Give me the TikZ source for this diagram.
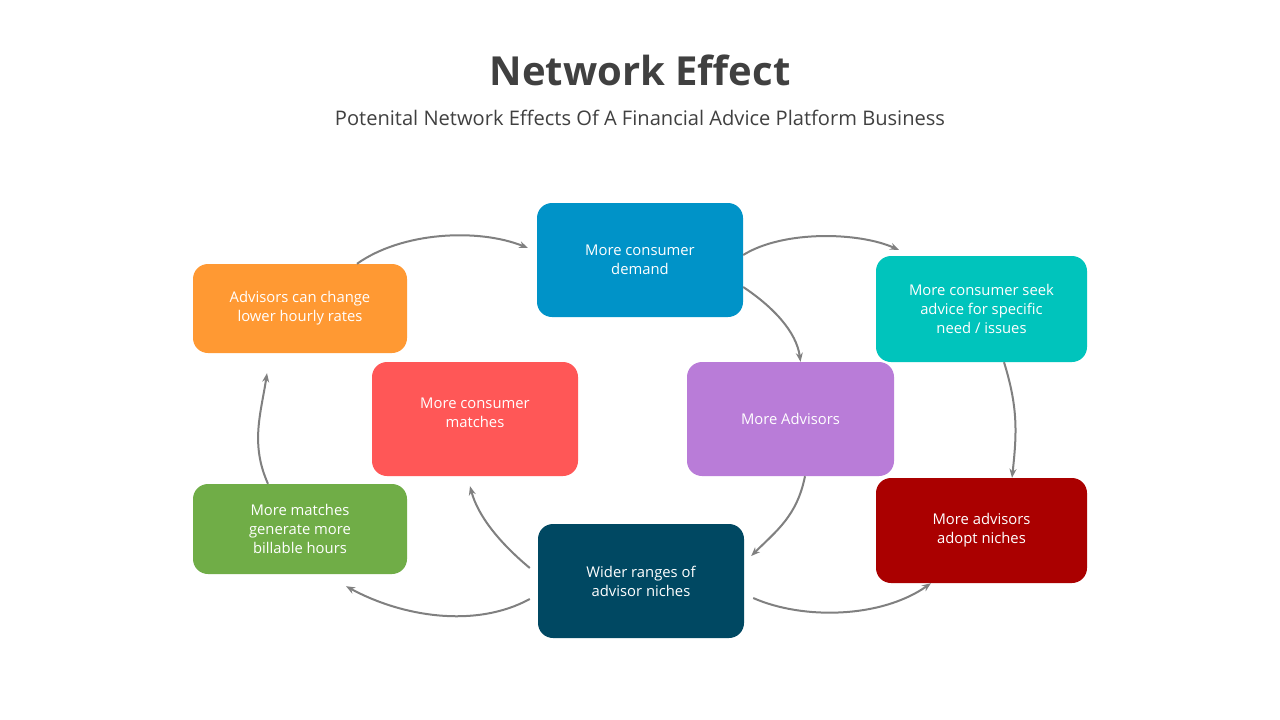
\documentclass[tikz,border=0pt]{standalone}
\usepackage{fontspec}
\setmainfont{Open Sans}
\usetikzlibrary{arrows.meta}
\definecolor{cOrange}{RGB}{255,153,51}
\definecolor{cBlue}{RGB}{0,147,200}
\definecolor{cTeal}{RGB}{0,196,188}
\definecolor{cCoral}{RGB}{255,87,87}
\definecolor{cPurple}{RGB}{185,124,216}
\definecolor{cGreen}{RGB}{112,173,71}
\definecolor{cNavy}{RGB}{0,72,98}
\definecolor{cDark}{RGB}{170,0,0}
\definecolor{cTitle}{RGB}{64,64,64}
\definecolor{cArrow}{RGB}{128,128,128}
\tikzset{
  box/.style={rounded corners=15pt, text=white, align=center, inner sep=0pt,
    font=\fontsize{14.8}{19}\selectfont},
  flow/.style={draw=cArrow, line width=2pt, -{Stealth[length=9pt,width=7pt]}},
}
\begin{document}
\begin{tikzpicture}[x=1pt,y=-1pt]
\useasboundingbox (0,0) rectangle (1280,720);
\fill[white] (0,0) rectangle (1280,720);
\node[font=\fontsize{40}{46}\selectfont\bfseries, text=cTitle] (title) at (640,70) {Network Effect};
\node[font=\fontsize{20.1}{24}\selectfont, text=cTitle] (sub) at (640,118) {Potenital Network Effects Of A Financial Advice Platform Business};

\node[box, fill=cOrange, minimum width=214pt, minimum height=89pt] (orange) at (300,308.5) {Advisors can change\\lower hourly rates};
\node[box, fill=cBlue, minimum width=206pt, minimum height=114pt] (blue) at (640,260) {More consumer\\demand};
\node[box, fill=cTeal, minimum width=211pt, minimum height=106pt] (teal) at (981.5,309) {More consumer seek\\advice for specific\\need / issues};
\node[box, fill=cCoral, minimum width=206pt, minimum height=114pt] (coral) at (475,419) {More consumer\\matches\\[-6pt]};
\node[box, fill=cPurple, minimum width=207pt, minimum height=114pt] (purple) at (790.5,419) {More Advisors};
\node[box, fill=cGreen, minimum width=214pt, minimum height=90pt] (green) at (300,529) {More matches\\generate more\\billable hours};
\node[box, fill=cNavy, minimum width=206pt, minimum height=114pt] (navy) at (641,581) {Wider ranges of\\advisor niches};
\node[box, fill=cDark, minimum width=211pt, minimum height=105pt] (dark) at (981.5,530.5) {More advisors\\adopt niches};

\coordinate (e1) at (528,248);
\coordinate (e2) at (899,250);
\draw[flow] ([xshift=57pt]orange.north) .. controls +(45,-32) and +(-50,-20) .. (e1);
\draw[flow] ([yshift=5pt]blue.east) .. controls +(40,-25) and +(-40,-18) .. (e2);
\draw[flow] ([yshift=-27pt]blue.east) .. controls +(30,20) and +(-4,-30) .. ([xshift=10pt]purple.north);
\draw[flow] ([xshift=22.5pt]teal.south) .. controls +(14,45) and +(5,-45) .. ([xshift=30.5pt]dark.north);
\draw[flow] ([xshift=14.5pt]purple.south) .. controls +(-8,40) and +(25,-25) .. ([xshift=7pt,yshift=25pt]navy.east);
\draw[flow] ([xshift=9pt,yshift=-17pt]navy.east) .. controls +(50,22) and +(-50,35) .. ([xshift=-50.5pt]dark.south);
\draw[flow] ([xshift=-8pt,yshift=13pt]navy.west) .. controls +(-30,-25) and +(8,30) .. ([xshift=-5pt,yshift=-10pt]coral.south);
\draw[flow] ([xshift=-8pt,yshift=-18pt]navy.west) .. controls +(-55,30) and +(55,30) .. ([xshift=46pt,yshift=-12pt]green.south);
\draw[flow] ([xshift=-32pt]green.north) .. controls +(-18,-40) and +(-6,40) .. ([xshift=-33pt,yshift=-20pt]orange.south);
\end{tikzpicture}
\end{document}
